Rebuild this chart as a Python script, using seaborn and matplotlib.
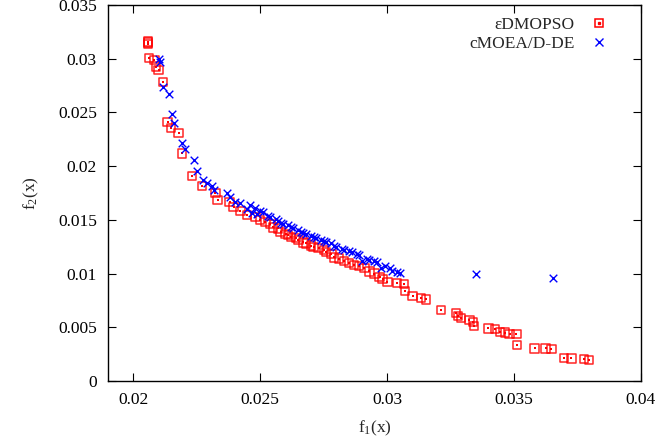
import matplotlib
matplotlib.use("Agg")
import matplotlib.pyplot as plt
from matplotlib.lines import Line2D
from matplotlib.legend_handler import HandlerTuple
import seaborn as sns
import pandas as pd

# ---- data: eDMOPSO (red squares) ----
red_f1 = [0.02057, 0.02057, 0.02058, 0.02062, 0.02083, 0.02089, 0.02099, 0.02116,
          0.02135, 0.02149, 0.02178, 0.02191, 0.02231, 0.02270, 0.02323, 0.02332,
          0.02379, 0.02395, 0.02422, 0.02448, 0.02481,
          0.02500, 0.02520, 0.02540, 0.02550, 0.02570, 0.02580, 0.02600, 0.02610,
          0.02620, 0.02640, 0.02650, 0.02670, 0.02680, 0.02700, 0.02710, 0.02730,
          0.02750, 0.02760, 0.02780, 0.02790, 0.02810, 0.02830, 0.02850, 0.02870,
          0.02890, 0.02910, 0.02930, 0.02950, 0.02970,
          0.02982, 0.03001, 0.03038, 0.03067, 0.03070, 0.03100, 0.03133, 0.03153,
          0.03212, 0.03272, 0.03278, 0.03291, 0.03324, 0.03337, 0.03341, 0.03399,
          0.03426, 0.03445, 0.03465, 0.03482, 0.03509, 0.03511, 0.03581, 0.03624,
          0.03647, 0.03697, 0.03726, 0.03775, 0.03795]
red_f2 = [0.03160, 0.03150, 0.03137, 0.03004, 0.02988, 0.02926, 0.02895, 0.02786,
          0.02408, 0.02352, 0.02311, 0.02119, 0.01908, 0.01815, 0.01753, 0.01685,
          0.01669, 0.01622, 0.01585, 0.01545, 0.01529,
          0.01500, 0.01480, 0.01460, 0.01430, 0.01420, 0.01390, 0.01370, 0.01360,
          0.01340, 0.01330, 0.01310, 0.01290, 0.01280, 0.01260, 0.01250, 0.01240,
          0.01220, 0.01200, 0.01180, 0.01150, 0.01140, 0.01120, 0.01100, 0.01080,
          0.01070, 0.01050, 0.01020, 0.01000, 0.00970,
          0.00947, 0.00924, 0.00915, 0.00900, 0.00840, 0.00791, 0.00775, 0.00760,
          0.00661, 0.00630, 0.00605, 0.00584, 0.00568, 0.00552, 0.00512, 0.00490,
          0.00484, 0.00459, 0.00450, 0.00437, 0.00437, 0.00335, 0.00304, 0.00304,
          0.00295, 0.00217, 0.00210, 0.00202, 0.00195]

# ---- data: cMOEA/D-DE (blue crosses) ----
blue_f1 = [0.02100, 0.02106, 0.02115, 0.02142, 0.02152, 0.02162, 0.02191, 0.02204,
           0.02240, 0.02250, 0.02274, 0.02290, 0.02310, 0.02316, 0.02369, 0.02382,
           0.02402, 0.02422, 0.02448, 0.02460, 0.02468, 0.02480, 0.02488,
           0.02500, 0.02510, 0.02530, 0.02540, 0.02560, 0.02570, 0.02580, 0.02590,
           0.02610, 0.02620, 0.02630, 0.02650, 0.02660, 0.02670, 0.02680, 0.02700,
           0.02710, 0.02720, 0.02740, 0.02750, 0.02760, 0.02780, 0.02790, 0.02800,
           0.02820, 0.02830, 0.02850, 0.02860, 0.02880, 0.02890, 0.02900, 0.02920,
           0.02930, 0.02950, 0.02960, 0.02975, 0.02990, 0.03010, 0.03020, 0.03040,
           0.03050, 0.03348, 0.03654]
blue_f2 = [0.02995, 0.02973, 0.02739, 0.02671, 0.02485, 0.02405, 0.02212, 0.02157,
           0.02057, 0.01958, 0.01871, 0.01840, 0.01815, 0.01778, 0.01746, 0.01715,
           0.01669, 0.01653, 0.01597, 0.01640, 0.01567, 0.01610, 0.01554,
           0.01580, 0.01570, 0.01540, 0.01530, 0.01510, 0.01490, 0.01470, 0.01460,
           0.01450, 0.01430, 0.01420, 0.01410, 0.01390, 0.01380, 0.01370, 0.01350,
           0.01340, 0.01330, 0.01310, 0.01300, 0.01290, 0.01280, 0.01260, 0.01250,
           0.01230, 0.01220, 0.01210, 0.01200, 0.01180, 0.01170, 0.01120, 0.01140,
           0.01130, 0.01120, 0.01110, 0.01052, 0.01070, 0.01050, 0.01020, 0.01010,
           0.01005, 0.00993, 0.00962]

series_names = ["\u03b5DMOPSO", "cMOEA/D-DE"]
x_ticks = [0.02, 0.025, 0.03, 0.035, 0.04]
x_tick_labels = ["0.02", "0.025", "0.03", "0.035", "0.04"]
y_ticks = [0, 0.005, 0.01, 0.015, 0.02, 0.025, 0.03, 0.035]
y_tick_labels = ["0", "0.005", "0.01", "0.015", "0.02", "0.025", "0.03", "0.035"]

df_red = pd.DataFrame({"f1": red_f1, "f2": red_f2})
df_blue = pd.DataFrame({"f1": blue_f1, "f2": blue_f2})

sns.set_style("ticks")
plt.rcParams["font.family"] = ["Liberation Serif", "DejaVu Serif"]
plt.rcParams["mathtext.default"] = "regular"
plt.rcParams["font.size"] = 12.5

fig = plt.figure(figsize=(6.58, 4.41), dpi=100)
ax = fig.add_axes([108 / 658, 1 - 381 / 441, (641 - 108) / 658, (381 - 5) / 441])

red = "#ff0000"
blue = "#0000ff"

sns.scatterplot(data=df_red, x="f1", y="f2", ax=ax, marker="s", s=36,
                facecolors="none", edgecolor=red, linewidth=1.1, alpha=0.85,
                legend=False, zorder=3)
sns.scatterplot(data=df_red, x="f1", y="f2", ax=ax, marker="s", s=2,
                color=red, linewidth=0, legend=False, zorder=3)
sns.scatterplot(data=df_blue, x="f1", y="f2", ax=ax, marker="x", s=30,
                color=blue, linewidth=1.0, legend=False, zorder=4)

ax.set_xlim(0.019, 0.04)
ax.set_ylim(0, 0.035)
ax.set_xticks(x_ticks)
ax.set_xticklabels(x_tick_labels)
ax.set_yticks(y_ticks)
ax.set_yticklabels(y_tick_labels)
ax.tick_params(direction="in", length=6, width=0.8, top=True, right=True,
               labelsize=12.5, pad=8, colors="black")
for sp in ax.spines.values():
    sp.set_visible(True)
    sp.set_linewidth(1.0)
    sp.set_color("black")

ax.set_xlabel("f$_1$(x)", fontsize=12.5, labelpad=8)
ax.set_ylabel("f$_2$(x)", fontsize=12.5, labelpad=12)

h_sq = Line2D([], [], marker="s", markersize=6.0, markerfacecolor="none",
              markeredgecolor=red, markeredgewidth=1.1, linestyle="none")
h_dot = Line2D([], [], marker="s", markersize=1.4, color=red, linestyle="none")
h_x = Line2D([], [], marker="x", markersize=5.5, color=blue, markeredgewidth=1.0,
             linestyle="none")
ax.legend([(h_sq, h_dot), h_x], series_names,
          handler_map={tuple: HandlerTuple(ndivide=1)},
          loc="upper right", bbox_to_anchor=(0.96, 0.995), frameon=False,
          markerfirst=False, handlelength=1.2, handletextpad=0.8,
          labelspacing=0.15, fontsize=12.5, borderaxespad=0.2)

fig.savefig("out.png", dpi=100)
